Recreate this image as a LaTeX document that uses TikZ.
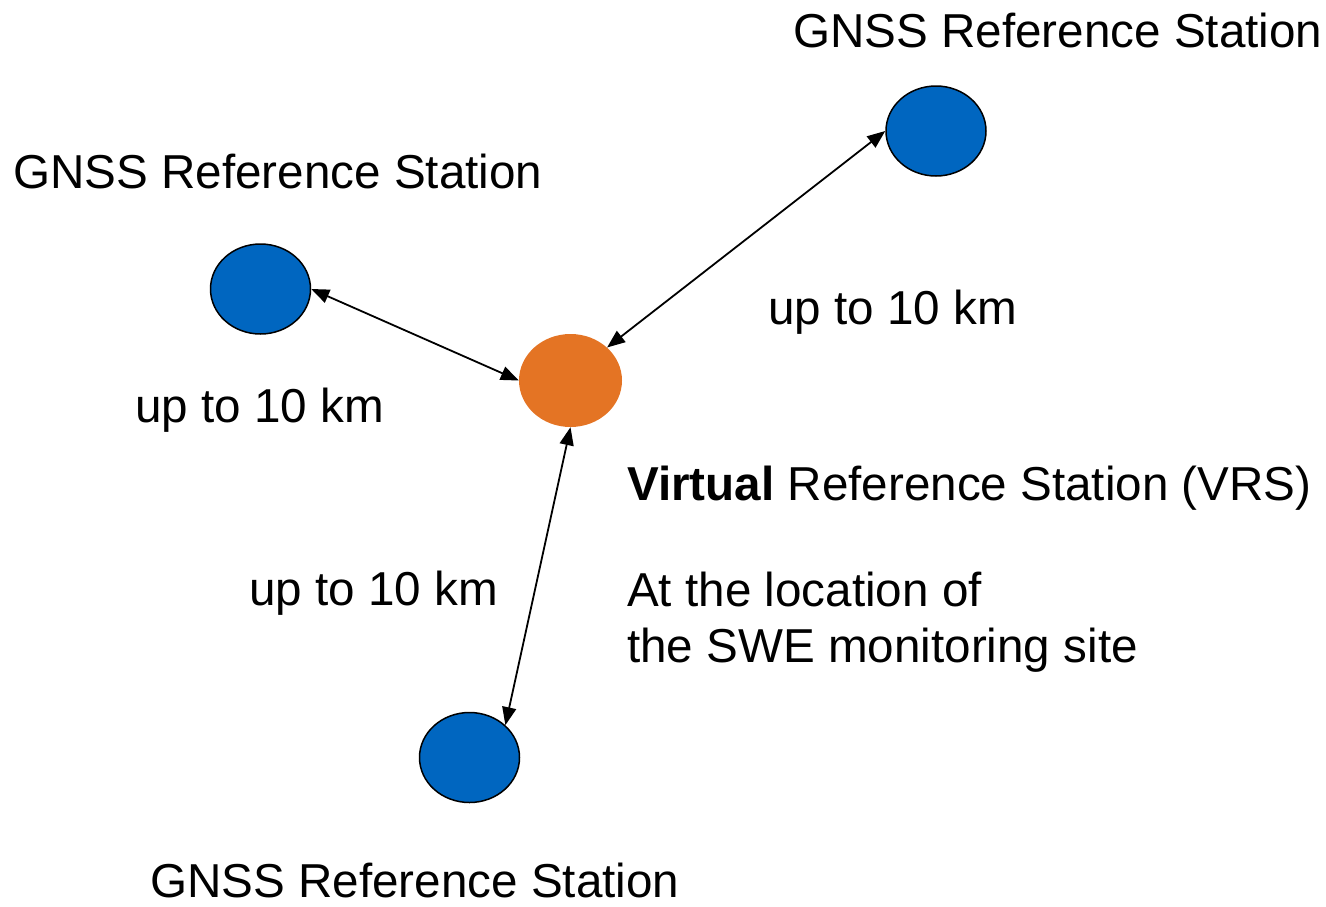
\documentclass[tikz,border=0pt]{standalone}
\usepackage{fontspec}
\setmainfont{Liberation Sans}
\usetikzlibrary{shapes.geometric,arrows.meta}
\definecolor{stblue}{RGB}{0,102,192}
\definecolor{vrsorange}{RGB}{228,116,36}
\tikzset{
  station/.style={ellipse, fill=stblue, draw=black, line width=1.5pt, minimum width=100pt, minimum height=90pt, inner sep=0pt},
  vrs/.style={ellipse, fill=vrsorange, draw=none, minimum width=103pt, minimum height=93pt, inner sep=0pt},
  link/.style={line width=1.8pt, {Triangle[length=18pt,width=14pt]}-{Triangle[length=18pt,width=14pt]}},
  lbl/.style={anchor=base west, inner sep=0pt, font=\fontsize{47.6}{56}\selectfont}
}
\begin{document}
\begin{tikzpicture}[x=1pt,y=-1pt]
\useasboundingbox (0,0) rectangle (1326,906);
\node[station] (tr) at (936,131) {};
\node[station] (lt) at (260.5,289) {};
\node[station] (bt) at (469.5,757.5) {};
\node[vrs] (v) at (570.5,380.5) {};
\draw[link] (tr.west) -- (v.north east);
\draw[link] (lt.east) -- (v.west);
\draw[link] (v.south) -- (bt.north east);
\node[lbl] (ttr) at (793,47) {GNSS Reference Station};
\node[lbl] (tlt) at (13,188) {GNSS Reference Station};
\node[lbl] (tbt) at (150,897) {GNSS Reference Station};
\node[lbl] (d1) at (768,324) {up to 10 km};
\node[lbl] (d2) at (135,422) {up to 10 km};
\node[lbl] (d3) at (249,605) {up to 10 km};
\node[lbl] (tv) at (627,500) {\textbf{Virtual} Reference Station (VRS)};
\node[lbl] (ta) at (627,606) {At the location of};
\node[lbl] (tb) at (627,662) {the SWE monitoring site};
\end{tikzpicture}
\end{document}
